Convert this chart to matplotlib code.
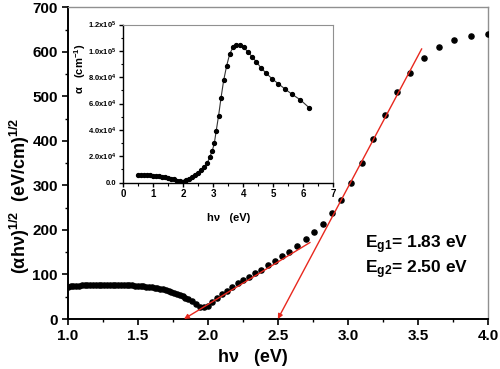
import matplotlib
matplotlib.use("Agg")
import matplotlib.pyplot as plt
from matplotlib.ticker import MultipleLocator

plt.rcParams['font.family'] = ['Liberation Sans', 'DejaVu Sans']
plt.rcParams['font.weight'] = 'bold'
plt.rcParams['mathtext.fontset'] = 'custom'
plt.rcParams['mathtext.rm'] = 'Liberation Sans:bold'
plt.rcParams['mathtext.it'] = 'Liberation Sans:bold'
plt.rcParams['mathtext.bf'] = 'Liberation Sans:bold'
plt.rcParams['mathtext.default'] = 'rm'

# ---- main data: (alpha h nu)^(1/2) vs h nu ----
hv_main = [1.00, 1.02, 1.04, 1.06, 1.08, 1.10, 1.12, 1.14, 1.16, 1.18,
           1.20, 1.22, 1.24, 1.26, 1.28, 1.30, 1.32, 1.34, 1.36, 1.38,
           1.40, 1.42, 1.44, 1.46, 1.48, 1.50, 1.52, 1.54, 1.56, 1.58,
           1.60, 1.62, 1.64, 1.66, 1.68, 1.70, 1.72, 1.74, 1.76, 1.78,
           1.80, 1.82, 1.84, 1.86,
           1.885, 1.916, 1.944, 1.973, 1.999, 2.030, 2.063, 2.099, 2.135, 2.173,
           2.213, 2.251, 2.294, 2.337, 2.382, 2.430, 2.480, 2.530, 2.582, 2.639,
           2.699, 2.756, 2.820, 2.884, 2.953, 3.024, 3.101, 3.179, 3.265, 3.353,
           3.446, 3.543, 3.650, 3.760, 3.877, 3.998]
ahv_main = [73.0, 73.5, 74.0, 74.5, 75.0, 75.3, 75.6, 75.9, 76.1, 76.3,
            76.5, 76.6, 76.7, 76.8, 76.8, 76.8, 76.8, 76.7, 76.6, 76.5,
            76.3, 76.1, 75.8, 75.5, 75.1, 74.7, 74.2, 73.6, 73.0, 72.2,
            71.4, 70.4, 69.3, 68.0, 66.6, 65.0, 63.2, 61.2, 59.0, 56.5,
            53.8, 50.8, 47.6, 44.2,
            41, 34, 28, 26, 30, 39, 47, 56, 64, 71,
            80, 87, 95, 103, 111, 121, 130, 141, 151, 164,
            179, 195, 213, 239, 267, 305, 350, 404, 458, 510,
            553, 587, 611, 626, 636, 640]

# ---- inset data: alpha vs h nu ----
hv_inset = [0.50, 0.60, 0.70, 0.80, 0.90, 1.00, 1.10, 1.20, 1.30, 1.40,
            1.50, 1.60, 1.70, 1.80, 1.90, 1.95, 2.00, 2.05, 2.10, 2.20,
            2.30, 2.40, 2.50, 2.60, 2.70, 2.80,
            2.89, 2.97, 3.04, 3.10, 3.18, 3.26, 3.35, 3.45, 3.55, 3.66,
            3.77, 3.90, 4.02, 4.15, 4.30, 4.44, 4.60, 4.77, 4.96, 5.17,
            5.38, 5.62, 5.90, 6.20]
alpha_inset = [5900, 5800, 5700, 5600, 5500, 5300, 5100, 4900, 4500, 4100,
               3600, 3000, 2300, 1500, 800, 500, 600, 1000, 1600, 2800,
               4200, 5600, 7200, 9200, 11500, 14500,
               19500, 24000, 30000, 39000, 50600, 64000, 77600, 88700, 97600, 102700,
               104700, 104400, 102700, 99300, 95500, 91500, 86900, 82900, 78800, 75000,
               71200, 67100, 62800, 56700]

# ---- linear fits (band-gap extrapolations) ----
eg1 = 1.83
eg2 = 2.50
fit1_top = (2.73, 172)
fit2_top = (3.527, 607)
eg_labels = ['E$_{g1}$= 1.83 eV', 'E$_{g2}$= 2.50 eV']

x_ticks_main = [1.0, 1.5, 2.0, 2.5, 3.0, 3.5, 4.0]
y_ticks_main = [0, 100, 200, 300, 400, 500, 600, 700]
inset_yticks = [0, 20000, 40000, 60000, 80000, 100000, 120000]
inset_ylabels = ['0.0', '2.0x10$^{4}$', '4.0x10$^{4}$', '6.0x10$^{4}$',
                 '8.0x10$^{4}$', '1.0x10$^{5}$', '1.2x10$^{5}$']

red = '#e8281e'

fig = plt.figure(figsize=(5.0, 3.69), dpi=100)
ax = fig.add_axes([0.1354, 0.1355, 0.8406, 0.8445])

ax.plot(hv_main, ahv_main, 'o', color='black', ms=3.7, mec='black', zorder=3)

ax.annotate('', xy=(eg1, 0), xytext=fit1_top,
            arrowprops=dict(arrowstyle='-|>', color=red, lw=1.0,
                            mutation_scale=7, shrinkA=0, shrinkB=0), zorder=4)
ax.annotate('', xy=(eg2, 0), xytext=fit2_top,
            arrowprops=dict(arrowstyle='-|>', color=red, lw=1.0,
                            mutation_scale=7, shrinkA=0, shrinkB=0), zorder=4)

ax.text(3.122, 166, eg_labels[0], fontsize=12.5, fontweight='bold', ha='left', va='center')
ax.text(3.122, 110, eg_labels[1], fontsize=12.5, fontweight='bold', ha='left', va='center')

ax.set_xlim(1.0, 4.0)
ax.set_ylim(0, 700)
ax.set_xticks(x_ticks_main)
ax.set_xticklabels([f'{v:.1f}' for v in x_ticks_main])
ax.set_yticks(y_ticks_main)
ax.xaxis.set_minor_locator(MultipleLocator(0.25))
ax.yaxis.set_minor_locator(MultipleLocator(50))
ax.tick_params(axis='both', which='major', direction='out', length=4, width=1.2,
               labelsize=11, pad=3)
ax.tick_params(axis='both', which='minor', direction='out', length=2.5, width=1.0)
for lbl in ax.get_xticklabels() + ax.get_yticklabels():
    lbl.set_fontweight('bold')
ax.spines['left'].set_linewidth(1.4)
ax.spines['bottom'].set_linewidth(1.4)
for s in ('top', 'right'):
    ax.spines[s].set_color('#909090')
    ax.spines[s].set_linewidth(1.0)

fig.text(0.506, 0.031, 'h\u03bd   (eV)', fontsize=13, fontweight='bold',
         ha='center', va='center')
fig.text(0.040, 0.47, '(\u03b1h\u03bd)$^{1/2}$  (eV/cm)$^{1/2}$', fontsize=13,
         fontweight='bold', rotation=90, ha='center', va='center')

# ---- inset ----
axi = fig.add_axes([0.246, 0.5054, 0.4207, 0.4282])
axi.plot(hv_inset, alpha_inset, '-', color='#333333', lw=0.8, zorder=2)
axi.plot(hv_inset, alpha_inset, 'o', color='black', ms=2.8, zorder=3)
axi.set_xlim(0, 7)
axi.set_ylim(0, 120000)
axi.set_xticks(range(0, 8))
axi.xaxis.set_minor_locator(MultipleLocator(0.5))
axi.set_yticks(inset_yticks)
axi.set_yticklabels(inset_ylabels)
axi.yaxis.set_minor_locator(MultipleLocator(10000))
axi.tick_params(axis='both', which='major', direction='out', length=3, width=1.0,
                labelsize=7, pad=1.5)
axi.tick_params(axis='both', which='minor', direction='out', length=1.8, width=0.8)
axi.tick_params(axis='y', labelsize=5.5)
for lbl in axi.get_xticklabels() + axi.get_yticklabels():
    lbl.set_fontweight('bold')
axi.spines['left'].set_linewidth(1.0)
axi.spines['bottom'].set_linewidth(1.0)
for s in ('top', 'right'):
    axi.spines[s].set_color('#909090')
    axi.spines[s].set_linewidth(0.8)
axi.set_xlabel('h\u03bd   (eV)', fontsize=8, fontweight='bold')
axi.xaxis.set_label_coords(0.5, -0.19)
axi.set_ylabel('\u03b1   (cm$^{-1}$)', fontsize=8, fontweight='bold')
axi.yaxis.set_label_coords(-0.165, 0.72)

fig.savefig('out.png', dpi=100)
